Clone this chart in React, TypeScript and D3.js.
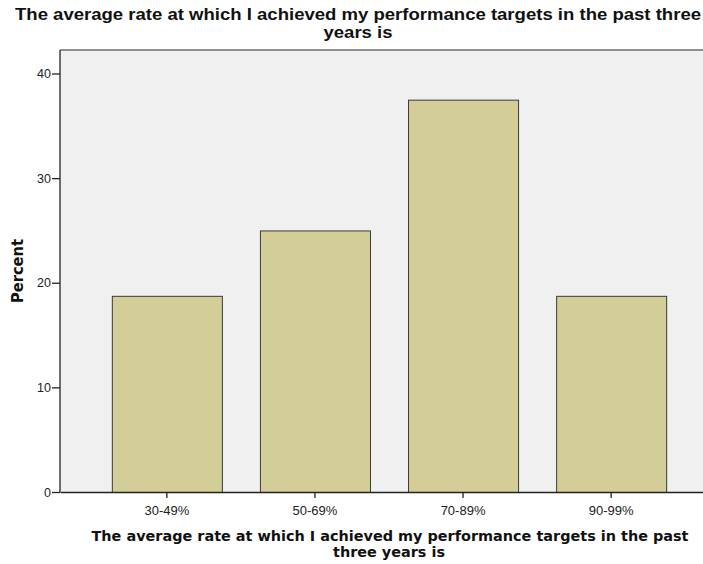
import React, { useEffect, useRef } from "react";
import * as d3 from "d3";

const categories = ["30-49%", "50-69%", "70-89%", "90-99%"];
const percents = [18.75, 25, 37.5, 18.75];
const yTicks = [0, 10, 20, 30, 40];
const titleLines = ["The average rate at which I achieved my performance targets in the past three", "years is"];
const xTitleLines = ["The average rate at which I achieved my performance targets in the past", "three years is"];

const App: React.FC = () => {
  const ref = useRef<SVGSVGElement>(null);

  useEffect(() => {
    if (!ref.current) return;
    const width = 703;
    const height = 564;
    const plot = { left: 60, right: 718, top: 50, bottom: 492 };

    const svg = d3.select(ref.current).html("").attr("viewBox", `0 0 ${width} ${height}`);

    const x = d3
      .scaleBand<string>()
      .domain(categories)
      .range([plot.left, plot.right])
      .paddingInner(0.257)
      .paddingOuter(0.35);

    const y = d3.scaleLinear().domain([0, 40]).range([plot.bottom, 73.5]);

    // background
    svg
      .append("rect")
      .attr("x", plot.left)
      .attr("y", plot.top)
      .attr("width", plot.right - plot.left)
      .attr("height", plot.bottom - plot.top)
      .attr("fill", "#f0f0f0");

    svg
      .append("line")
      .attr("x1", plot.left)
      .attr("x2", plot.right)
      .attr("y1", plot.top)
      .attr("y2", plot.top)
      .attr("stroke", "#6e6e6e")
      .attr("stroke-width", 1.5);

    // bars
    svg
      .append("g")
      .selectAll("rect")
      .data(percents)
      .join("rect")
      .attr("x", (_d, i) => x(categories[i])! + 0.5)
      .attr("y", (d) => y(d) + 0.5)
      .attr("width", x.bandwidth())
      .attr("height", (d) => y(0) - y(d))
      .attr("fill", "#d3ce97")
      .attr("stroke", "#3a3a3a")
      .attr("stroke-width", 1);

    // y axis
    const gy = svg
      .append("g")
      .attr("transform", `translate(${plot.left},0)`)
      .call(d3.axisLeft(y).tickValues(yTicks).tickSize(8).tickPadding(1).tickSizeOuter(0));
    gy.select(".domain").remove();
    gy.selectAll(".tick line").attr("stroke", "#222").attr("stroke-width", 1.3);
    gy.selectAll(".tick text")
      .attr("font-family", "Liberation Sans, Arial, sans-serif")
      .attr("font-size", 12.5)
      .attr("fill", "#222");
    svg
      .append("line")
      .attr("x1", plot.left)
      .attr("x2", plot.left)
      .attr("y1", plot.top)
      .attr("y2", plot.bottom)
      .attr("stroke", "#222")
      .attr("stroke-width", 1.3);

    // x axis
    const gx = svg
      .append("g")
      .attr("transform", `translate(0,${plot.bottom})`)
      .call(d3.axisBottom(x).tickSize(6).tickPadding(8).tickSizeOuter(0));
    gx.select(".domain").attr("stroke", "#222").attr("stroke-width", 1.3);
    gx.selectAll(".tick line").attr("stroke", "#222").attr("stroke-width", 1.3);
    gx.selectAll(".tick text")
      .attr("font-family", "Liberation Sans, Arial, sans-serif")
      .attr("font-size", 13)
      .attr("fill", "#222");

    // chart title
    const title = svg
      .append("text")
      .attr("text-anchor", "middle")
      .attr("font-family", "Liberation Sans, Arial, sans-serif")
      .attr("font-weight", "bold")
      .attr("font-size", 16)
      .attr("fill", "#111");
    title
      .append("tspan")
      .attr("x", 358)
      .attr("y", 20)
      .attr("textLength", 686)
      .attr("lengthAdjust", "spacingAndGlyphs")
      .text(titleLines[0]);
    title
      .append("tspan")
      .attr("x", 358)
      .attr("y", 38)
      .attr("textLength", 69)
      .attr("lengthAdjust", "spacingAndGlyphs")
      .text(titleLines[1]);

    // x axis title
    const xTitle = svg
      .append("text")
      .attr("text-anchor", "middle")
      .attr("font-family", "DejaVu Sans, Verdana, sans-serif")
      .attr("font-weight", "bold")
      .attr("font-size", 14)
      .attr("fill", "#111");
    xTitle
      .append("tspan")
      .attr("x", 390)
      .attr("y", 541)
      .attr("textLength", 597)
      .attr("lengthAdjust", "spacingAndGlyphs")
      .text(xTitleLines[0]);
    xTitle
      .append("tspan")
      .attr("x", 389)
      .attr("y", 557)
      .attr("textLength", 112)
      .attr("lengthAdjust", "spacingAndGlyphs")
      .text(xTitleLines[1]);

    svg
      .append("text")
      .attr("transform", `translate(23,271) rotate(-90)`)
      .attr("text-anchor", "middle")
      .attr("font-family", "DejaVu Sans, Verdana, sans-serif")
      .attr("font-weight", "bold")
      .attr("font-size", 15)
      .attr("fill", "#111")
      .attr("textLength", 64)
      .attr("lengthAdjust", "spacingAndGlyphs")
      .text("Percent");
  }, []);

  return (
    <svg
      ref={ref}
      width={703}
      height={564}
      style={{ position: "absolute", left: 0, top: 0, background: "#fff" }}
    />
  );
};

export default App;
